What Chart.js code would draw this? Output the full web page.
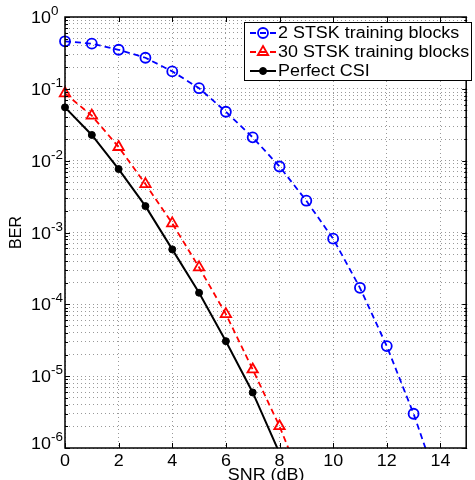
<!DOCTYPE html>
<html>
<head>
<meta charset="utf-8">
<script src="https://cdn.jsdelivr.net/npm/chart.js@4/dist/chart.umd.min.js"></script>
<style>
  html, body { margin: 0; padding: 0; background: #fff; }
  #wrap { width: 475px; height: 480px; }
</style>
</head>
<body>
<div id="wrap"><canvas id="grafico" width="475" height="480"></canvas></div>
<script>
// datos
let snr2 = [0, 1, 2, 3, 4, 5, 6, 7, 8, 9, 10, 11, 12, 13, 14];
let ber2 = [0.459, 0.425, 0.35, 0.271, 0.175, 0.102, 0.048, 0.0211, 0.0083, 0.00277, 8.2e-4, 1.7e-4, 2.62e-5, 3.0e-6, 2.5e-7];

let snr30 = [0, 1, 2, 3, 4, 5, 6, 7, 8, 9];
let ber30 = [0.0866, 0.0423, 0.0155, 0.00472, 0.00134, 3.27e-4, 7.3e-5, 1.24e-5, 2.01e-6, 2.4e-7];

let snrCsi = [0, 1, 2, 3, 4, 5, 6, 7, 8];
let berCsi = [0.0552, 0.0228, 0.00764, 0.00233, 5.82e-4, 1.45e-4, 3.07e-5, 5.93e-6, 8.5e-7];

let xTicks = [0, 2, 4, 6, 8, 10, 12, 14];
let yExps = [0, -1, -2, -3, -4, -5, -6];

const fuente = "'Liberation Sans', Arial, sans-serif";
const estirar = 1.12; // el texto original sale algo ensanchado

function puntos(xs, ys) {
    return xs.map(function (x, i) { return { x: x, y: ys[i] }; });
}

// ticks del eje y: decadas y subdivisiones
function ticksLog() {
    let t = [];
    for (let k = -6; k <= 0; k++) {
        t.push({ value: Math.pow(10, k) });
        if (k < 0) {
            for (let m = 2; m <= 9; m++) t.push({ value: m * Math.pow(10, k) });
        }
    }
    return t;
}

// texto con ensanche horizontal; devuelve el ancho dibujado
function texto(ctx, s, x, y, size, align) {
    ctx.font = size + "px " + fuente;
    const w = ctx.measureText(s).width * estirar;
    let x0 = x;
    if (align === "center") x0 = x - w / 2;
    if (align === "right") x0 = x - w;
    ctx.save();
    ctx.translate(x0, y);
    ctx.scale(estirar, 1);
    ctx.textAlign = "left";
    ctx.fillText(s, 0, 0);
    ctx.restore();
    return w;
}

const recuadro = {
    id: "recuadro",
    afterDraw: function (chart) {
        const ctx = chart.ctx;
        const a = chart.chartArea;
        const xs = chart.scales.x;
        const ys = chart.scales.y;
        ctx.save();

        // marcas interiores
        ctx.strokeStyle = "#000";
        ctx.lineWidth = 1;
        ctx.beginPath();
        xTicks.forEach(function (v) {
            const px = Math.round(xs.getPixelForValue(v)) + 0.5;
            ctx.moveTo(px, a.bottom); ctx.lineTo(px, a.bottom - 5);
            ctx.moveTo(px, a.top); ctx.lineTo(px, a.top + 5);
        });
        ticksLog().forEach(function (t) {
            const py = Math.round(ys.getPixelForValue(t.value)) + 0.5;
            const largo = Number.isInteger(Math.log10(t.value)) ? 5 : 3;
            ctx.moveTo(a.left, py); ctx.lineTo(a.left + largo, py);
            ctx.moveTo(a.right, py); ctx.lineTo(a.right - largo, py);
        });
        ctx.stroke();

        // marco
        ctx.lineWidth = 1.5;
        ctx.strokeRect(a.left, a.top, a.right - a.left - 1, a.bottom - a.top);

        ctx.fillStyle = "#000";
        ctx.textBaseline = "alphabetic";

        // etiquetas del eje y: 10^k
        yExps.forEach(function (k) {
            const py = ys.getPixelForValue(Math.pow(10, k));
            const base = (k === -6) ? py + 1 : py + 6;
            const w = texto(ctx, "10", 31, base, 16, "left");
            texto(ctx, k === 0 ? "0" : "-" + (-k), 31 + w, base - 8, 12, "left");
        });

        // etiquetas del eje x
        xTicks.forEach(function (v) {
            texto(ctx, String(v), xs.getPixelForValue(v), 466, 16, "center");
        });

        // titulos de ejes
        texto(ctx, "SNR (dB)", (a.left + a.right) / 2, 480, 16, "center");
        ctx.save();
        ctx.translate(21, (a.top + a.bottom) / 2);
        ctx.rotate(-Math.PI / 2);
        ctx.font = "16px " + fuente;
        ctx.textAlign = "center";
        ctx.fillText("BER", 0, 0);
        ctx.restore();

        // leyenda
        const lx = 244, ly = 22, lw = 227, lh = 58;
        ctx.fillStyle = "#fff";
        ctx.fillRect(lx, ly, lw, lh);
        ctx.strokeStyle = "#000";
        ctx.lineWidth = 1;
        ctx.strokeRect(lx + 0.5, ly + 0.5, lw, lh);
        chart.data.datasets.forEach(function (ds, i) {
            const fy = 33 + i * 19;
            ctx.strokeStyle = ds.borderColor;
            ctx.lineWidth = ds.borderWidth;
            ctx.setLineDash(ds.borderDash || []);
            ctx.beginPath();
            ctx.moveTo(250, fy); ctx.lineTo(276, fy);
            ctx.stroke();
            ctx.setLineDash([]);
            ctx.fillStyle = ds.pointBackgroundColor;
            ctx.strokeStyle = ds.borderColor;
            ctx.lineWidth = ds.pointBorderWidth;
            Chart.helpers.drawPoint(ctx, {
                pointStyle: ds.pointStyle,
                radius: ds.pointRadius,
                borderWidth: ds.pointBorderWidth
            }, 263, fy);
            ctx.fillStyle = "#000";
            ctx.textBaseline = "middle";
            texto(ctx, ds.label, 278, fy + 1, 16, "left");
        });
        ctx.restore();
    }
};

let ctx = document.getElementById("grafico").getContext("2d");

let grafico = new Chart(ctx, {
    type: "line",
    data: {
        datasets: [{
            label: "2 STSK training blocks",
            data: puntos(snr2, ber2),
            borderColor: "#0000ff",
            borderWidth: 1.8,
            borderDash: [6, 4],
            pointStyle: "circle",
            pointRadius: 5,
            pointBorderWidth: 1.8,
            pointBackgroundColor: "rgba(0,0,0,0)",
            clip: { left: 10, top: 0, right: 0, bottom: 0 }
        }, {
            label: "30 STSK training blocks",
            data: puntos(snr30, ber30),
            borderColor: "#ff0000",
            borderWidth: 1.8,
            borderDash: [6, 4],
            pointStyle: "triangle",
            pointRadius: 6,
            pointBorderWidth: 1.8,
            pointBackgroundColor: "rgba(0,0,0,0)",
            clip: { left: 10, top: 0, right: 0, bottom: 0 }
        }, {
            label: "Perfect CSI",
            data: puntos(snrCsi, berCsi),
            borderColor: "#000000",
            borderWidth: 2,
            pointStyle: "circle",
            pointRadius: 3.5,
            pointBorderWidth: 1,
            pointBackgroundColor: "#000000",
            clip: { left: 10, top: 0, right: 0, bottom: 0 }
        }]
    },
    options: {
        responsive: false,
        animation: false,
        layout: { padding: { top: 17, right: 0, left: 0, bottom: 0 } },
        plugins: { legend: { display: false }, tooltip: { enabled: false } },
        elements: { line: { tension: 0 } },
        scales: {
            x: {
                type: "linear",
                min: 0,
                max: 15,
                afterBuildTicks: function (s) { s.ticks = xTicks.map(function (v) { return { value: v }; }); },
                afterFit: function (s) { s.height = 32; },
                ticks: { display: false },
                grid: { color: "rgba(0,0,0,0.4)", drawTicks: false, lineWidth: 1 },
                border: { display: false, dash: [1, 3] }
            },
            y: {
                type: "logarithmic",
                min: 1e-6,
                max: 1,
                afterBuildTicks: function (s) { s.ticks = ticksLog(); },
                afterFit: function (s) { s.width = 65; },
                ticks: { display: false },
                grid: { color: "rgba(0,0,0,0.4)", drawTicks: false, lineWidth: 1 },
                border: { display: false, dash: [1, 3] }
            }
        }
    },
    plugins: [recuadro]
});
</script>
</body>
</html>
